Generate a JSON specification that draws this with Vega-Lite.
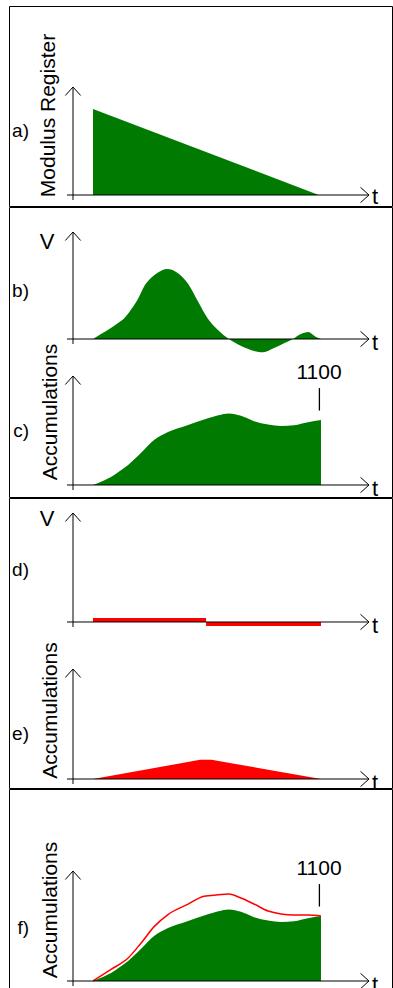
{
"$schema": "https://vega.github.io/schema/vega-lite/v6.json",
"padding": {"left": 8, "top": 5, "right": 1, "bottom": 1},
"spacing": 1,
"bounds": "flush",
"background": "white",
"config": {"view": {"stroke": "black", "strokeWidth": 1, "fill": "white"}, "text": {"font": "Liberation Sans", "color": "black"}},
"datasets": {
"modulus": [{"t": 0, "M": 100}, {"t": 99, "M": 0}],
"vb": [{"t": 0, "V": 0}, {"t": 3.5, "V": 7}, {"t": 7, "V": 14}, {"t": 11, "V": 23}, {"t": 13.5, "V": 29}, {"t": 15.8, "V": 38}, {"t": 19.7, "V": 57}, {"t": 22.4, "V": 75}, {"t": 25.4, "V": 87}, {"t": 28.5, "V": 95}, {"t": 32.5, "V": 100}, {"t": 37.3, "V": 94}, {"t": 41.7, "V": 79}, {"t": 46, "V": 54}, {"t": 50.4, "V": 29}, {"t": 54.8, "V": 13}, {"t": 59.6, "V": 0}, {"t": 65, "V": -10}, {"t": 70.6, "V": -17}, {"t": 74.6, "V": -19}, {"t": 79.4, "V": -13}, {"t": 83.8, "V": -6}, {"t": 87.7, "V": 0}, {"t": 91.2, "V": 7}, {"t": 94.3, "V": 10}, {"t": 97.8, "V": 3}, {"t": 100, "V": 0}],
"accum": [{"t": 0, "A": 0}, {"t": 3.5, "A": 55}, {"t": 7.9, "A": 135}, {"t": 11, "A": 215}, {"t": 15.4, "A": 340}, {"t": 21.1, "A": 545}, {"t": 26.8, "A": 760}, {"t": 32.9, "A": 895}, {"t": 41.7, "A": 1015}, {"t": 50.4, "A": 1130}, {"t": 55, "A": 1180}, {"t": 59.6, "A": 1210}, {"t": 64.9, "A": 1170}, {"t": 70.6, "A": 1080}, {"t": 76.8, "A": 1025}, {"t": 82.5, "A": 1000}, {"t": 88.2, "A": 1012}, {"t": 94.3, "A": 1062}, {"t": 100, "A": 1100}],
"vd": [{"t0": 0, "t1": 49.6, "V": 5.7}, {"t0": 49.6, "t1": 100, "V": -5.7}],
"accumE": [{"t": 0, "A": 0}, {"t": 47, "A": 325}, {"t": 52, "A": 325}, {"t": 100, "A": 0}],
"accumF": [{"t": 0, "A": 0}, {"t": 7.9, "A": 195}, {"t": 15.4, "A": 390}, {"t": 21.1, "A": 643}, {"t": 26.8, "A": 920}, {"t": 32.9, "A": 1125}, {"t": 41.7, "A": 1300}, {"t": 48.7, "A": 1435}, {"t": 54.8, "A": 1458}, {"t": 59.6, "A": 1472}, {"t": 64.9, "A": 1404}, {"t": 70.6, "A": 1303}, {"t": 76.8, "A": 1184}, {"t": 82.5, "A": 1134}, {"t": 88.2, "A": 1117}, {"t": 94.3, "A": 1115}, {"t": 100, "A": 1100}]
},
"vconcat": [
{
"width": 383, "height": 200,
"data": {"values": [{}]},
"layer": [
{"data": {"name": "modulus"}, "mark": {"type": "area", "color": "#007a00"}, "encoding": {"x": {"field": "t", "type": "quantitative", "scale": {"domain": [-36.842, 131.14], "nice": false, "zero": false}, "axis": null}, "y": {"field": "M", "type": "quantitative", "scale": {"domain": [-12.79, 219.77], "nice": false, "zero": false}, "axis": null}}},
{"mark": {"type": "rule", "color": "black", "strokeWidth": 1}, "encoding": {"x": {"datum": -8.77, "type": "quantitative", "scale": {"domain": [-36.842, 131.14], "nice": false, "zero": false}, "axis": null}, "y": {"datum": -5.81, "type": "quantitative", "scale": {"domain": [-12.79, 219.77], "nice": false, "zero": false}, "axis": null}, "y2": {"datum": 125.58}}},
{"mark": {"type": "rule", "color": "black", "strokeWidth": 1}, "encoding": {"x": {"datum": -11.4, "type": "quantitative", "scale": {"domain": [-36.842, 131.14], "nice": false, "zero": false}, "axis": null}, "x2": {"datum": 121.05}, "y": {"datum": 0, "type": "quantitative", "scale": {"domain": [-12.79, 219.77], "nice": false, "zero": false}, "axis": null}}},
{"mark": {"type": "point", "shape": "M-0.9,1L0,0L0.9,1", "filled": false, "color": "black", "strokeWidth": 1, "size": 289, "opacity": 1}, "encoding": {"x": {"datum": -8.77, "type": "quantitative", "scale": {"domain": [-36.842, 131.14], "nice": false, "zero": false}, "axis": null}, "y": {"datum": 125.58, "type": "quantitative", "scale": {"domain": [-12.79, 219.77], "nice": false, "zero": false}, "axis": null}}},
{"mark": {"type": "point", "shape": "M-1,-0.9L0,0L-1,0.9", "filled": false, "color": "black", "strokeWidth": 1, "size": 289, "opacity": 1}, "encoding": {"x": {"datum": 121.05, "type": "quantitative", "scale": {"domain": [-36.842, 131.14], "nice": false, "zero": false}, "axis": null}, "y": {"datum": 0, "type": "quantitative", "scale": {"domain": [-12.79, 219.77], "nice": false, "zero": false}, "axis": null}}},
{"mark": {"type": "text", "text": "t", "fontSize": 22, "align": "left", "baseline": "alphabetic"}, "encoding": {"x": {"datum": 122.37, "type": "quantitative", "scale": {"domain": [-36.842, 131.14], "nice": false, "zero": false}, "axis": null}, "y": {"datum": -10.47, "type": "quantitative", "scale": {"domain": [-12.79, 219.77], "nice": false, "zero": false}, "axis": null}}},
{"mark": {"type": "text", "text": "a)", "fontSize": 19, "align": "right", "baseline": "alphabetic"}, "encoding": {"x": {"datum": -28.07, "type": "quantitative", "scale": {"domain": [-36.842, 131.14], "nice": false, "zero": false}, "axis": null}, "y": {"datum": 67.44, "type": "quantitative", "scale": {"domain": [-12.79, 219.77], "nice": false, "zero": false}, "axis": null}}},
{"mark": {"type": "text", "text": "Modulus Register", "fontSize": 21, "angle": 270, "align": "center", "baseline": "alphabetic"}, "encoding": {"x": {"datum": -16.67, "type": "quantitative", "scale": {"domain": [-36.842, 131.14], "nice": false, "zero": false}, "axis": null}, "y": {"datum": 92.44, "type": "quantitative", "scale": {"domain": [-12.79, 219.77], "nice": false, "zero": false}, "axis": null}}}
]
},
{
"width": 383, "height": 290,
"resolve": {"scale": {"y": "independent"}},
"layer": [
{
"data": {"values": [{}]},
"layer": [
{"data": {"name": "vb"}, "mark": {"type": "area", "color": "#007a00", "interpolate": "monotone"}, "encoding": {"x": {"field": "t", "type": "quantitative", "scale": {"domain": [-36.842, 131.14], "nice": false, "zero": false}, "axis": null}, "y": {"field": "V", "type": "quantitative", "scale": {"domain": [-225.71, 188.57], "nice": false, "zero": false}, "axis": null}}},
{"mark": {"type": "rule", "color": "black", "strokeWidth": 1}, "encoding": {"x": {"datum": -8.77, "type": "quantitative", "scale": {"domain": [-36.842, 131.14], "nice": false, "zero": false}, "axis": null}, "y": {"datum": -7.14, "type": "quantitative", "scale": {"domain": [-225.71, 188.57], "nice": false, "zero": false}, "axis": null}, "y2": {"datum": 152.86}}},
{"mark": {"type": "rule", "color": "black", "strokeWidth": 1}, "encoding": {"x": {"datum": -11.4, "type": "quantitative", "scale": {"domain": [-36.842, 131.14], "nice": false, "zero": false}, "axis": null}, "x2": {"datum": 121.05}, "y": {"datum": 0, "type": "quantitative", "scale": {"domain": [-225.71, 188.57], "nice": false, "zero": false}, "axis": null}}},
{"mark": {"type": "point", "shape": "M-0.9,1L0,0L0.9,1", "filled": false, "color": "black", "strokeWidth": 1, "size": 289, "opacity": 1}, "encoding": {"x": {"datum": -8.77, "type": "quantitative", "scale": {"domain": [-36.842, 131.14], "nice": false, "zero": false}, "axis": null}, "y": {"datum": 152.86, "type": "quantitative", "scale": {"domain": [-225.71, 188.57], "nice": false, "zero": false}, "axis": null}}},
{"mark": {"type": "point", "shape": "M-1,-0.9L0,0L-1,0.9", "filled": false, "color": "black", "strokeWidth": 1, "size": 289, "opacity": 1}, "encoding": {"x": {"datum": 121.05, "type": "quantitative", "scale": {"domain": [-36.842, 131.14], "nice": false, "zero": false}, "axis": null}, "y": {"datum": 0, "type": "quantitative", "scale": {"domain": [-225.71, 188.57], "nice": false, "zero": false}, "axis": null}}},
{"mark": {"type": "text", "text": "t", "fontSize": 22, "align": "left", "baseline": "alphabetic"}, "encoding": {"x": {"datum": 122.37, "type": "quantitative", "scale": {"domain": [-36.842, 131.14], "nice": false, "zero": false}, "axis": null}, "y": {"datum": -15.71, "type": "quantitative", "scale": {"domain": [-225.71, 188.57], "nice": false, "zero": false}, "axis": null}}},
{"mark": {"type": "text", "text": "b)", "fontSize": 19, "align": "right", "baseline": "alphabetic"}, "encoding": {"x": {"datum": -28.07, "type": "quantitative", "scale": {"domain": [-36.842, 131.14], "nice": false, "zero": false}, "axis": null}, "y": {"datum": 60, "type": "quantitative", "scale": {"domain": [-225.71, 188.57], "nice": false, "zero": false}, "axis": null}}},
{"mark": {"type": "text", "text": "V", "fontSize": 22, "align": "center", "baseline": "alphabetic"}, "encoding": {"x": {"datum": -20.18, "type": "quantitative", "scale": {"domain": [-36.842, 131.14], "nice": false, "zero": false}, "axis": null}, "y": {"datum": 128.57, "type": "quantitative", "scale": {"domain": [-225.71, 188.57], "nice": false, "zero": false}, "axis": null}}}
]
},
{
"data": {"values": [{}]},
"layer": [
{"data": {"name": "accum"}, "mark": {"type": "area", "color": "#007a00", "interpolate": "monotone"}, "encoding": {"x": {"field": "t", "type": "quantitative", "scale": {"domain": [-36.842, 131.14], "nice": false, "zero": false}, "axis": null}, "y": {"field": "A", "type": "quantitative", "scale": {"domain": [-203.08, 4704.6], "nice": false, "zero": false}, "axis": null}}},
{"mark": {"type": "rule", "color": "black", "strokeWidth": 1}, "encoding": {"x": {"datum": -8.77, "type": "quantitative", "scale": {"domain": [-36.842, 131.14], "nice": false, "zero": false}, "axis": null}, "y": {"datum": -84.6, "type": "quantitative", "scale": {"domain": [-203.08, 4704.6], "nice": false, "zero": false}, "axis": null}, "y2": {"datum": 1844.6}}},
{"mark": {"type": "rule", "color": "black", "strokeWidth": 1}, "encoding": {"x": {"datum": -11.4, "type": "quantitative", "scale": {"domain": [-36.842, 131.14], "nice": false, "zero": false}, "axis": null}, "x2": {"datum": 121.05}, "y": {"datum": 0, "type": "quantitative", "scale": {"domain": [-203.08, 4704.6], "nice": false, "zero": false}, "axis": null}}},
{"mark": {"type": "point", "shape": "M-0.9,1L0,0L0.9,1", "filled": false, "color": "black", "strokeWidth": 1, "size": 289, "opacity": 1}, "encoding": {"x": {"datum": -8.77, "type": "quantitative", "scale": {"domain": [-36.842, 131.14], "nice": false, "zero": false}, "axis": null}, "y": {"datum": 1844.6, "type": "quantitative", "scale": {"domain": [-203.08, 4704.6], "nice": false, "zero": false}, "axis": null}}},
{"mark": {"type": "point", "shape": "M-1,-0.9L0,0L-1,0.9", "filled": false, "color": "black", "strokeWidth": 1, "size": 289, "opacity": 1}, "encoding": {"x": {"datum": 121.05, "type": "quantitative", "scale": {"domain": [-36.842, 131.14], "nice": false, "zero": false}, "axis": null}, "y": {"datum": 0, "type": "quantitative", "scale": {"domain": [-203.08, 4704.6], "nice": false, "zero": false}, "axis": null}}},
{"mark": {"type": "text", "text": "t", "fontSize": 22, "align": "left", "baseline": "alphabetic", "clip": true}, "encoding": {"x": {"datum": 122.37, "type": "quantitative", "scale": {"domain": [-36.842, 131.14], "nice": false, "zero": false}, "axis": null}, "y": {"datum": -186.2, "type": "quantitative", "scale": {"domain": [-203.08, 4704.6], "nice": false, "zero": false}, "axis": null}}},
{"mark": {"type": "text", "text": "c)", "fontSize": 19, "align": "right", "baseline": "alphabetic"}, "encoding": {"x": {"datum": -28.07, "type": "quantitative", "scale": {"domain": [-36.842, 131.14], "nice": false, "zero": false}, "axis": null}, "y": {"datum": 812.3, "type": "quantitative", "scale": {"domain": [-203.08, 4704.6], "nice": false, "zero": false}, "axis": null}}},
{"mark": {"type": "text", "text": "Accumulations", "fontSize": 21, "angle": 270, "align": "center", "baseline": "alphabetic"}, "encoding": {"x": {"datum": -15.79, "type": "quantitative", "scale": {"domain": [-36.842, 131.14], "nice": false, "zero": false}, "axis": null}, "y": {"datum": 1235.4, "type": "quantitative", "scale": {"domain": [-203.08, 4704.6], "nice": false, "zero": false}, "axis": null}}},
{"mark": {"type": "rule", "color": "black", "strokeWidth": 1.3}, "encoding": {"x": {"datum": 99.3, "type": "quantitative", "scale": {"domain": [-36.842, 131.14], "nice": false, "zero": false}, "axis": null}, "y": {"datum": 1260, "type": "quantitative", "scale": {"domain": [-203.08, 4704.6], "nice": false, "zero": false}, "axis": null}, "y2": {"datum": 1640}}},
{"mark": {"type": "text", "text": "1100", "fontSize": 21, "align": "center", "baseline": "alphabetic"}, "encoding": {"x": {"datum": 99.12, "type": "quantitative", "scale": {"domain": [-36.842, 131.14], "nice": false, "zero": false}, "axis": null}, "y": {"datum": 1790, "type": "quantitative", "scale": {"domain": [-203.08, 4704.6], "nice": false, "zero": false}, "axis": null}}}
]
}
]
},
{
"width": 383, "height": 290,
"resolve": {"scale": {"y": "independent"}},
"layer": [
{
"data": {"values": [{}]},
"layer": [
{"data": {"name": "vd"}, "mark": {"type": "rect", "color": "#ff0000"}, "encoding": {"x": {"field": "t0", "type": "quantitative", "scale": {"domain": [-36.842, 131.14], "nice": false, "zero": false}, "axis": null}, "x2": {"field": "t1"}, "y": {"field": "V", "type": "quantitative", "scale": {"domain": [-237.14, 177.14], "nice": false, "zero": false}, "axis": null}, "y2": {"datum": 0}}},
{"mark": {"type": "rule", "color": "black", "strokeWidth": 1}, "encoding": {"x": {"datum": -8.77, "type": "quantitative", "scale": {"domain": [-36.842, 131.14], "nice": false, "zero": false}, "axis": null}, "y": {"datum": -7.14, "type": "quantitative", "scale": {"domain": [-237.14, 177.14], "nice": false, "zero": false}, "axis": null}, "y2": {"datum": 155.7}}},
{"mark": {"type": "rule", "color": "black", "strokeWidth": 1}, "encoding": {"x": {"datum": -11.4, "type": "quantitative", "scale": {"domain": [-36.842, 131.14], "nice": false, "zero": false}, "axis": null}, "x2": {"datum": 121.05}, "y": {"datum": 0, "type": "quantitative", "scale": {"domain": [-237.14, 177.14], "nice": false, "zero": false}, "axis": null}}},
{"mark": {"type": "point", "shape": "M-0.9,1L0,0L0.9,1", "filled": false, "color": "black", "strokeWidth": 1, "size": 289, "opacity": 1}, "encoding": {"x": {"datum": -8.77, "type": "quantitative", "scale": {"domain": [-36.842, 131.14], "nice": false, "zero": false}, "axis": null}, "y": {"datum": 155.7, "type": "quantitative", "scale": {"domain": [-237.14, 177.14], "nice": false, "zero": false}, "axis": null}}},
{"mark": {"type": "point", "shape": "M-1,-0.9L0,0L-1,0.9", "filled": false, "color": "black", "strokeWidth": 1, "size": 289, "opacity": 1}, "encoding": {"x": {"datum": 121.05, "type": "quantitative", "scale": {"domain": [-36.842, 131.14], "nice": false, "zero": false}, "axis": null}, "y": {"datum": 0, "type": "quantitative", "scale": {"domain": [-237.14, 177.14], "nice": false, "zero": false}, "axis": null}}},
{"mark": {"type": "text", "text": "t", "fontSize": 22, "align": "left", "baseline": "alphabetic"}, "encoding": {"x": {"datum": 122.37, "type": "quantitative", "scale": {"domain": [-36.842, 131.14], "nice": false, "zero": false}, "axis": null}, "y": {"datum": -15.71, "type": "quantitative", "scale": {"domain": [-237.14, 177.14], "nice": false, "zero": false}, "axis": null}}},
{"mark": {"type": "text", "text": "d)", "fontSize": 19, "align": "right", "baseline": "alphabetic"}, "encoding": {"x": {"datum": -28.07, "type": "quantitative", "scale": {"domain": [-36.842, 131.14], "nice": false, "zero": false}, "axis": null}, "y": {"datum": 65.7, "type": "quantitative", "scale": {"domain": [-237.14, 177.14], "nice": false, "zero": false}, "axis": null}}},
{"mark": {"type": "text", "text": "V", "fontSize": 22, "align": "center", "baseline": "alphabetic"}, "encoding": {"x": {"datum": -20.18, "type": "quantitative", "scale": {"domain": [-36.842, 131.14], "nice": false, "zero": false}, "axis": null}, "y": {"datum": 137.1, "type": "quantitative", "scale": {"domain": [-237.14, 177.14], "nice": false, "zero": false}, "axis": null}}}
]
},
{
"data": {"values": [{}]},
"layer": [
{"data": {"name": "accumE"}, "mark": {"type": "area", "color": "#ff0000"}, "encoding": {"x": {"field": "t", "type": "quantitative", "scale": {"domain": [-36.842, 131.14], "nice": false, "zero": false}, "axis": null}, "y": {"field": "A", "type": "quantitative", "scale": {"domain": [-152.3, 4755.4], "nice": false, "zero": false}, "axis": null}}},
{"mark": {"type": "rule", "color": "black", "strokeWidth": 1}, "encoding": {"x": {"datum": -8.77, "type": "quantitative", "scale": {"domain": [-36.842, 131.14], "nice": false, "zero": false}, "axis": null}, "y": {"datum": -84.6, "type": "quantitative", "scale": {"domain": [-152.3, 4755.4], "nice": false, "zero": false}, "axis": null}, "y2": {"datum": 1861.5}}},
{"mark": {"type": "rule", "color": "black", "strokeWidth": 1}, "encoding": {"x": {"datum": -11.4, "type": "quantitative", "scale": {"domain": [-36.842, 131.14], "nice": false, "zero": false}, "axis": null}, "x2": {"datum": 121.05}, "y": {"datum": 0, "type": "quantitative", "scale": {"domain": [-152.3, 4755.4], "nice": false, "zero": false}, "axis": null}}},
{"mark": {"type": "point", "shape": "M-0.9,1L0,0L0.9,1", "filled": false, "color": "black", "strokeWidth": 1, "size": 289, "opacity": 1}, "encoding": {"x": {"datum": -8.77, "type": "quantitative", "scale": {"domain": [-36.842, 131.14], "nice": false, "zero": false}, "axis": null}, "y": {"datum": 1861.5, "type": "quantitative", "scale": {"domain": [-152.3, 4755.4], "nice": false, "zero": false}, "axis": null}}},
{"mark": {"type": "point", "shape": "M-1,-0.9L0,0L-1,0.9", "filled": false, "color": "black", "strokeWidth": 1, "size": 289, "opacity": 1}, "encoding": {"x": {"datum": 121.05, "type": "quantitative", "scale": {"domain": [-36.842, 131.14], "nice": false, "zero": false}, "axis": null}, "y": {"datum": 0, "type": "quantitative", "scale": {"domain": [-152.3, 4755.4], "nice": false, "zero": false}, "axis": null}}},
{"mark": {"type": "text", "text": "t", "fontSize": 22, "align": "left", "baseline": "alphabetic", "clip": true}, "encoding": {"x": {"datum": 122.37, "type": "quantitative", "scale": {"domain": [-36.842, 131.14], "nice": false, "zero": false}, "axis": null}, "y": {"datum": -186.2, "type": "quantitative", "scale": {"domain": [-152.3, 4755.4], "nice": false, "zero": false}, "axis": null}}},
{"mark": {"type": "text", "text": "e)", "fontSize": 19, "align": "right", "baseline": "alphabetic"}, "encoding": {"x": {"datum": -28.07, "type": "quantitative", "scale": {"domain": [-36.842, 131.14], "nice": false, "zero": false}, "axis": null}, "y": {"datum": 660, "type": "quantitative", "scale": {"domain": [-152.3, 4755.4], "nice": false, "zero": false}, "axis": null}}},
{"mark": {"type": "text", "text": "Accumulations", "fontSize": 21, "angle": 270, "align": "center", "baseline": "alphabetic"}, "encoding": {"x": {"datum": -15.79, "type": "quantitative", "scale": {"domain": [-36.842, 131.14], "nice": false, "zero": false}, "axis": null}, "y": {"datum": 1159, "type": "quantitative", "scale": {"domain": [-152.3, 4755.4], "nice": false, "zero": false}, "axis": null}}}
]
}
]
},
{
"width": 383, "height": 199,
"data": {"values": [{}]},
"layer": [
{"data": {"name": "accum"}, "mark": {"type": "area", "color": "#007a00", "interpolate": "monotone"}, "encoding": {"x": {"field": "t", "type": "quantitative", "scale": {"domain": [-36.842, 131.14], "nice": false, "zero": false}, "axis": null}, "y": {"field": "A", "type": "quantitative", "scale": {"domain": [-118.46, 3249.2], "nice": false, "zero": false}, "axis": null}}},
{"data": {"name": "accumF"}, "mark": {"type": "line", "color": "#ff0000", "strokeWidth": 1.5, "interpolate": "monotone"}, "encoding": {"x": {"field": "t", "type": "quantitative", "scale": {"domain": [-36.842, 131.14], "nice": false, "zero": false}, "axis": null}, "y": {"field": "A", "type": "quantitative", "scale": {"domain": [-118.46, 3249.2], "nice": false, "zero": false}, "axis": null}}},
{"mark": {"type": "rule", "color": "black", "strokeWidth": 1}, "encoding": {"x": {"datum": -8.77, "type": "quantitative", "scale": {"domain": [-36.842, 131.14], "nice": false, "zero": false}, "axis": null}, "y": {"datum": -84.6, "type": "quantitative", "scale": {"domain": [-118.46, 3249.2], "nice": false, "zero": false}, "axis": null}, "y2": {"datum": 1861.5}}},
{"mark": {"type": "rule", "color": "black", "strokeWidth": 1}, "encoding": {"x": {"datum": -11.4, "type": "quantitative", "scale": {"domain": [-36.842, 131.14], "nice": false, "zero": false}, "axis": null}, "x2": {"datum": 121.05}, "y": {"datum": 0, "type": "quantitative", "scale": {"domain": [-118.46, 3249.2], "nice": false, "zero": false}, "axis": null}}},
{"mark": {"type": "point", "shape": "M-0.9,1L0,0L0.9,1", "filled": false, "color": "black", "strokeWidth": 1, "size": 289, "opacity": 1}, "encoding": {"x": {"datum": -8.77, "type": "quantitative", "scale": {"domain": [-36.842, 131.14], "nice": false, "zero": false}, "axis": null}, "y": {"datum": 1861.5, "type": "quantitative", "scale": {"domain": [-118.46, 3249.2], "nice": false, "zero": false}, "axis": null}}},
{"mark": {"type": "point", "shape": "M-1,-0.9L0,0L-1,0.9", "filled": false, "color": "black", "strokeWidth": 1, "size": 289, "opacity": 1}, "encoding": {"x": {"datum": 121.05, "type": "quantitative", "scale": {"domain": [-36.842, 131.14], "nice": false, "zero": false}, "axis": null}, "y": {"datum": 0, "type": "quantitative", "scale": {"domain": [-118.46, 3249.2], "nice": false, "zero": false}, "axis": null}}},
{"mark": {"type": "text", "text": "t", "fontSize": 22, "align": "left", "baseline": "alphabetic", "clip": true}, "encoding": {"x": {"datum": 122.37, "type": "quantitative", "scale": {"domain": [-36.842, 131.14], "nice": false, "zero": false}, "axis": null}, "y": {"datum": -186.2, "type": "quantitative", "scale": {"domain": [-118.46, 3249.2], "nice": false, "zero": false}, "axis": null}}},
{"mark": {"type": "text", "text": "f)", "fontSize": 19, "align": "right", "baseline": "alphabetic"}, "encoding": {"x": {"datum": -28.07, "type": "quantitative", "scale": {"domain": [-36.842, 131.14], "nice": false, "zero": false}, "axis": null}, "y": {"datum": 795.4, "type": "quantitative", "scale": {"domain": [-118.46, 3249.2], "nice": false, "zero": false}, "axis": null}}},
{"mark": {"type": "text", "text": "Accumulations", "fontSize": 21, "angle": 270, "align": "center", "baseline": "alphabetic"}, "encoding": {"x": {"datum": -15.79, "type": "quantitative", "scale": {"domain": [-36.842, 131.14], "nice": false, "zero": false}, "axis": null}, "y": {"datum": 1201.5, "type": "quantitative", "scale": {"domain": [-118.46, 3249.2], "nice": false, "zero": false}, "axis": null}}},
{"mark": {"type": "rule", "color": "black", "strokeWidth": 1.3}, "encoding": {"x": {"datum": 99.3, "type": "quantitative", "scale": {"domain": [-36.842, 131.14], "nice": false, "zero": false}, "axis": null}, "y": {"datum": 1260, "type": "quantitative", "scale": {"domain": [-118.46, 3249.2], "nice": false, "zero": false}, "axis": null}, "y2": {"datum": 1640}}},
{"mark": {"type": "text", "text": "1100", "fontSize": 21, "align": "center", "baseline": "alphabetic"}, "encoding": {"x": {"datum": 99.12, "type": "quantitative", "scale": {"domain": [-36.842, 131.14], "nice": false, "zero": false}, "axis": null}, "y": {"datum": 1790, "type": "quantitative", "scale": {"domain": [-118.46, 3249.2], "nice": false, "zero": false}, "axis": null}}}
]
}
]
}
